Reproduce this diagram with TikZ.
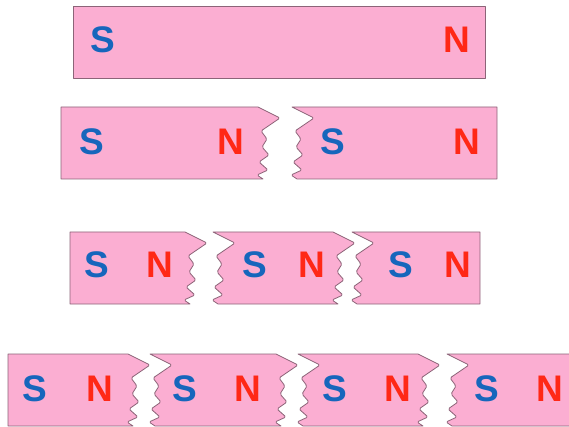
\documentclass[tikz,border=0pt]{standalone}
\usepackage{fontspec}
\setmainfont{Liberation Sans}
\definecolor{magpink}{RGB}{251,174,210}
\definecolor{magedge}{RGB}{140,100,120}
\definecolor{sblue}{RGB}{22,102,188}
\definecolor{nred}{RGB}{255,40,22}
\tikzset{
  magnet/.style={fill=magpink,draw=magedge,line width=0.8pt,line join=round},
  pole/.style={font=\fontsize{37}{40}\selectfont\bfseries,inner sep=0pt,anchor=base},
  spole/.style={pole,text=sblue},
  npole/.style={pole,text=nred},
  rj/.style 2 args={insert path={-- (#1,#2) [rounded corners=1.5pt] -- (#1+22,#2+11) -- (#1+3,#2+24) -- (#1+9,#2+32) -- (#1+4,#2+40) -- (#1+11,#2+48) -- (#1+1,#2+55) -- (#1+10,#2+63) -- (#1-1,#2+68) [sharp corners] -- (#1+5,#2+72)}},
  lj/.style 2 args={insert path={-- (#1+5,#2+72) [rounded corners=1.5pt] -- (#1-1,#2+68) -- (#1+10,#2+63) -- (#1+1,#2+55) -- (#1+11,#2+48) -- (#1+4,#2+40) -- (#1+9,#2+32) -- (#1+3,#2+24) -- (#1+22,#2+11) [sharp corners] -- (#1,#2)}}
}
\begin{document}
\begin{tikzpicture}[x=1pt,y=-1pt]
\useasboundingbox (0,0) rectangle (569,427);
\clip (0,0) rectangle (569,427);
% row 1
\draw[magnet] (73,6) rectangle (485,78);
\node[spole] (s1) at (103,53) {S};
\node[npole] (n1) at (457,53) {N};
% row 2
\draw[magnet] (61,107) [rj={258}{107}] -- (61,179) -- cycle;
\draw[magnet] (497,107) -- (497,179) -- (297,179) [lj={292}{107}] -- cycle;
\node[spole] (s2a) at (92,155) {S};
\node[npole] (n2a) at (231,155) {N};
\node[spole] (s2b) at (333,155) {S};
\node[npole] (n2b) at (467,155) {N};
% row 3
\draw[magnet] (70,232) [rj={185}{232}] -- (70,304) -- cycle;
\draw[magnet] (213,232) [rj={333}{232}] -- (218,304) [lj={213}{232}] -- cycle;
\draw[magnet] (480,232) -- (480,304) -- (357,304) [lj={352}{232}] -- cycle;
\node[spole] (s3a) at (97,277) {S};
\node[npole] (n3a) at (160,277) {N};
\node[spole] (s3b) at (255,277) {S};
\node[npole] (n3b) at (312,277) {N};
\node[spole] (s3c) at (401,277) {S};
\node[npole] (n3c) at (458,277) {N};
% row 4
\draw[magnet] (8,354) [rj={128}{354}] -- (8,426) -- cycle;
\draw[magnet] (150,354) [rj={276}{354}] -- (155,426) [lj={150}{354}] -- cycle;
\draw[magnet] (298,354) [rj={418}{354}] -- (303,426) [lj={298}{354}] -- cycle;
\draw[magnet] (590,354) -- (590,426) -- (452,426) [lj={447}{354}] -- cycle;
\node[spole] (s4a) at (35,401) {S};
\node[npole] (n4a) at (100,401) {N};
\node[spole] (s4b) at (185,401) {S};
\node[npole] (n4b) at (248,401) {N};
\node[spole] (s4c) at (335,401) {S};
\node[npole] (n4c) at (398,401) {N};
\node[spole] (s4d) at (487,401) {S};
\node[npole] (n4d) at (550,401) {N};
\end{tikzpicture}
\end{document}
